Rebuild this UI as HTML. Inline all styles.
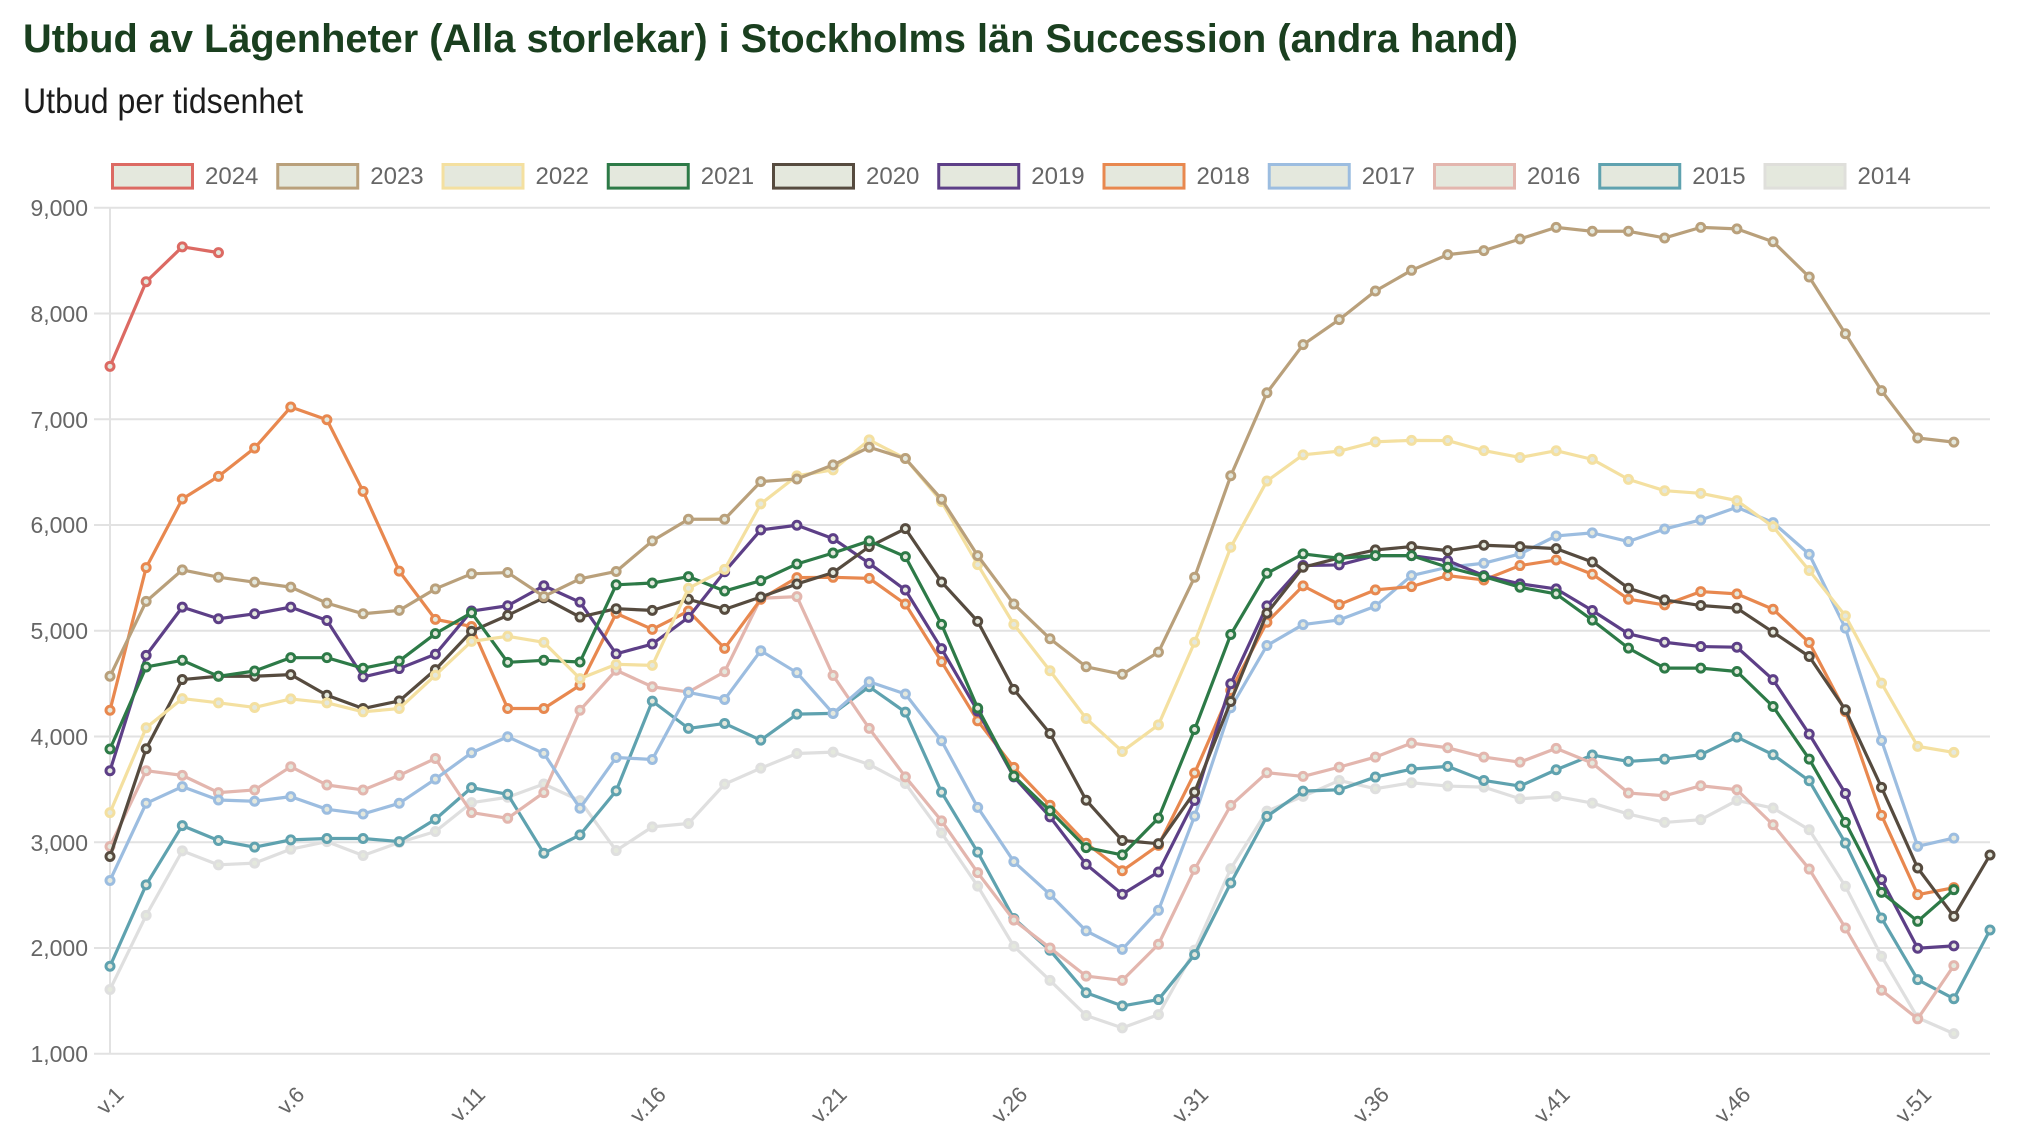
<!DOCTYPE html>
<html>
<head>
<meta charset="utf-8">
<style>
  html,body{margin:0;padding:0;background:#fff;}
  svg{display:block;}
  text{font-family:"Liberation Sans", Arial, sans-serif;}
</style>
</head>
<body>
<svg id="chart" width="2038" height="1146" viewBox="0 0 2038 1146" xmlns="http://www.w3.org/2000/svg">
  <rect x="0" y="0" width="2038" height="1146" fill="#ffffff"/>
  <!-- Title -->
  <text x="23" y="52" font-size="39.7" font-weight="bold" fill="#1a3f1f" textLength="1495" lengthAdjust="spacingAndGlyphs">Utbud av Lägenheter (Alla storlekar) i Stockholms län Succession (andra hand)</text>
  <text x="23" y="113" font-size="35" fill="#1c1c1c" textLength="280" lengthAdjust="spacingAndGlyphs">Utbud per tidsenhet</text>

  <!-- Grid -->
  <g id="grid" stroke="#e2e2e2" stroke-width="2">
    <line x1="94" y1="207.7" x2="1990" y2="207.7"/>
    <line x1="94" y1="313.45" x2="1990" y2="313.45"/>
    <line x1="94" y1="419.2" x2="1990" y2="419.2"/>
    <line x1="94" y1="524.95" x2="1990" y2="524.95"/>
    <line x1="94" y1="630.7" x2="1990" y2="630.7"/>
    <line x1="94" y1="736.45" x2="1990" y2="736.45"/>
    <line x1="94" y1="842.2" x2="1990" y2="842.2"/>
    <line x1="94" y1="947.95" x2="1990" y2="947.95"/>
    <line x1="94" y1="1053.7" x2="1990" y2="1053.7"/>
    <line x1="110" y1="207.7" x2="110" y2="1053.7"/>
  </g>

  <!-- Y labels -->
  <g font-size="23" fill="#666666" text-anchor="end">
    <text x="88" y="216">9,000</text>
    <text x="88" y="322">8,000</text>
    <text x="88" y="428">7,000</text>
    <text x="88" y="533">6,000</text>
    <text x="88" y="639">5,000</text>
    <text x="88" y="745">4,000</text>
    <text x="88" y="851">3,000</text>
    <text x="88" y="956">2,000</text>
    <text x="88" y="1062">1,000</text>
  </g>

  <!-- X labels -->
  <g font-size="22" fill="#666666" text-anchor="end">
    <text x="125" y="1096" transform="rotate(-45 125 1096)">v.1</text>
    <text x="305.8" y="1096" transform="rotate(-45 305.8 1096)">v.6</text>
    <text x="486.5" y="1096" transform="rotate(-45 486.5 1096)">v.11</text>
    <text x="667.3" y="1096" transform="rotate(-45 667.3 1096)">v.16</text>
    <text x="848.1" y="1096" transform="rotate(-45 848.1 1096)">v.21</text>
    <text x="1028.8" y="1096" transform="rotate(-45 1028.8 1096)">v.26</text>
    <text x="1209.6" y="1096" transform="rotate(-45 1209.6 1096)">v.31</text>
    <text x="1390.4" y="1096" transform="rotate(-45 1390.4 1096)">v.36</text>
    <text x="1571.2" y="1096" transform="rotate(-45 1571.2 1096)">v.41</text>
    <text x="1751.9" y="1096" transform="rotate(-45 1751.9 1096)">v.46</text>
    <text x="1932.7" y="1096" transform="rotate(-45 1932.7 1096)">v.51</text>
  </g>

  <!-- Legend -->
  <g stroke-width="3" fill="#e4e8dd">
    <rect x="112.5" y="164.5" width="80" height="23.6" stroke="#dc6a63"/>
    <rect x="277.75" y="164.5" width="80" height="23.6" stroke="#b9a07b"/>
    <rect x="443" y="164.5" width="80" height="23.6" stroke="#f4e0a0"/>
    <rect x="608.25" y="164.5" width="80" height="23.6" stroke="#2d7a47"/>
    <rect x="773.5" y="164.5" width="80" height="23.6" stroke="#564b3f"/>
    <rect x="938.75" y="164.5" width="80" height="23.6" stroke="#5d3f87"/>
    <rect x="1104" y="164.5" width="80" height="23.6" stroke="#e8884f"/>
    <rect x="1269.25" y="164.5" width="80" height="23.6" stroke="#9cbde0"/>
    <rect x="1434.5" y="164.5" width="80" height="23.6" stroke="#e3b6ae"/>
    <rect x="1599.75" y="164.5" width="80" height="23.6" stroke="#5fa2af"/>
    <rect x="1765" y="164.5" width="80" height="23.6" stroke="#dfdfdb"/>
  </g>
  <g font-size="24" fill="#666666">
    <text x="205" y="184">2024</text>
    <text x="370.25" y="184">2023</text>
    <text x="535.5" y="184">2022</text>
    <text x="700.75" y="184">2021</text>
    <text x="866" y="184">2020</text>
    <text x="1031.25" y="184">2019</text>
    <text x="1196.5" y="184">2018</text>
    <text x="1361.75" y="184">2017</text>
    <text x="1527" y="184">2016</text>
    <text x="1692.25" y="184">2015</text>
    <text x="1857.5" y="184">2014</text>
  </g>

  <g id="series"></g>
</svg>
<script>
(function(){
  var X = function(i){ return 110 + i*1880/52; };
  var Y = function(v){ return 207.7 + (9000 - v)*0.10575; };
  var S = [
    ["2024","#dc6a63",[7500,8300,8630,8575]],
    ["2023","#b9a07b",[4569,5277,5575,5506,5459,5412,5261,5160,5192,5396,5538,5550,5324,5491,5560,5849,6054,6054,6410,6435,6568,6735,6628,6243,5710,5252,4924,4659,4588,4797,5506,6465,7250,7705,7942,8212,8408,8556,8594,8704,8814,8777,8777,8714,8814,8800,8678,8345,7808,7270,6822,6783]],
    ["2022","#f4e0a0",[3280,4082,4358,4318,4274,4355,4318,4233,4264,4579,4899,4947,4890,4547,4682,4672,5401,5580,6199,6464,6521,6804,6628,6221,5625,5060,4621,4170,3858,4110,4891,5789,6415,6663,6698,6786,6800,6798,6703,6638,6702,6620,6431,6324,6299,6230,5984,5569,5140,4504,3906,3849]],
    ["2021","#2d7a47",[3881,4657,4720,4569,4619,4745,4745,4645,4714,4972,5170,4701,4720,4704,5434,5451,5511,5375,5473,5631,5735,5849,5700,5060,4268,3625,3297,2949,2880,3228,4066,4964,5543,5726,5685,5710,5710,5600,5512,5411,5348,5100,4835,4646,4646,4614,4283,3786,3187,2526,2252,2551]],
    ["2020","#564b3f",[2865,3884,4538,4569,4569,4585,4390,4264,4336,4632,4994,5145,5311,5129,5208,5192,5297,5202,5319,5442,5549,5795,5965,5461,5088,4445,4028,3397,3016,2986,3474,4331,5165,5600,5688,5764,5795,5757,5808,5795,5776,5650,5402,5291,5238,5213,4986,4756,4252,3518,2756,2299,2879]],
    ["2019","#5d3f87",[3676,4767,5223,5113,5160,5223,5097,4563,4642,4777,5186,5236,5425,5270,4781,4874,5126,5558,5953,5997,5871,5637,5385,4830,4240,3618,3240,2791,2508,2718,3395,4498,5235,5616,5622,5710,5710,5663,5521,5443,5395,5191,4970,4891,4850,4844,4537,4022,3461,2646,1997,2020]],
    ["2018","#e8884f",[4248,5597,6245,6459,6727,7115,6995,6318,5563,5107,5040,4264,4264,4484,5164,5013,5186,4833,5297,5502,5505,5495,5252,4707,4148,3707,3350,2990,2730,2970,3654,4435,5080,5424,5247,5386,5417,5521,5480,5616,5669,5534,5298,5244,5370,5348,5203,4888,4236,3254,2504,2570]],
    ["2017","#9cbde0",[2638,3368,3525,3399,3387,3431,3311,3267,3368,3597,3846,3997,3840,3321,3801,3782,4416,4350,4811,4603,4218,4517,4401,3959,3329,2816,2506,2161,1987,2356,3247,4271,4860,5058,5102,5231,5521,5600,5638,5726,5896,5925,5843,5962,6047,6167,6022,5723,5024,3962,2961,3039]],
    ["2016","#e3b6ae",[2959,3676,3632,3469,3494,3714,3541,3494,3632,3792,3280,3226,3469,4248,4626,4470,4420,4612,5306,5322,4577,4076,3618,3202,2712,2263,2000,1734,1693,2035,2743,3348,3657,3622,3710,3805,3937,3893,3805,3757,3887,3748,3465,3439,3534,3496,3165,2746,2189,1600,1330,1833]],
    ["2015","#5fa2af",[1827,2597,3157,3016,2953,3022,3035,3035,3006,3217,3516,3453,2896,3069,3485,4334,4076,4123,3965,4211,4218,4470,4230,3473,2906,2278,1978,1576,1452,1512,1937,2614,3244,3483,3496,3616,3691,3717,3584,3531,3685,3824,3764,3786,3827,3994,3827,3581,2992,2283,1700,1520,2170]],
    ["2014","#dfdfdf",[1607,2308,2918,2786,2802,2934,3006,2874,2997,3101,3374,3425,3550,3393,2921,3145,3177,3549,3700,3839,3852,3735,3555,3088,2585,2016,1693,1361,1244,1370,1980,2750,3294,3433,3584,3506,3562,3531,3521,3411,3433,3370,3266,3187,3213,3395,3323,3118,2583,1921,1340,1190]]
  ];
  var NS = "http://www.w3.org/2000/svg";
  var g = document.getElementById("series");
  for (var s = S.length-1; s >= 0; s--) {
    var col = S[s][1], d = S[s][2];
    var pts = [];
    for (var i = 0; i < d.length; i++) pts.push(X(i).toFixed(2)+","+Y(d[i]).toFixed(2));
    var pl = document.createElementNS(NS,"polyline");
    pl.setAttribute("points", pts.join(" "));
    pl.setAttribute("fill","none");
    pl.setAttribute("stroke",col);
    pl.setAttribute("stroke-width","3.2");
    pl.setAttribute("stroke-linejoin","round");
    g.appendChild(pl);
    for (var j = 0; j < d.length; j++) {
      var c = document.createElementNS(NS,"circle");
      c.setAttribute("cx", X(j).toFixed(2));
      c.setAttribute("cy", Y(d[j]).toFixed(2));
      c.setAttribute("r","4");
      c.setAttribute("fill","#e4e8dd");
      c.setAttribute("stroke",col);
      c.setAttribute("stroke-width","3");
      g.appendChild(c);
    }
  }
})();
</script>
</body>
</html>
